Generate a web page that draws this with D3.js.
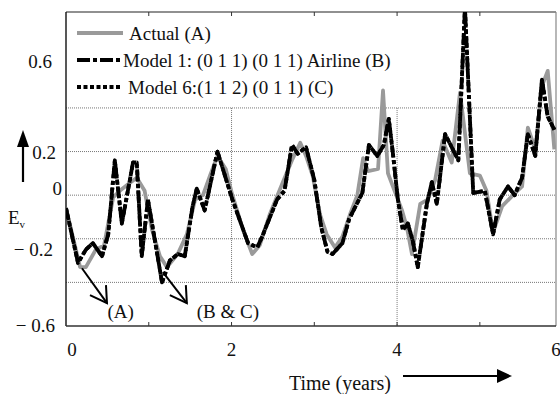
<!DOCTYPE html>
<html>
<head>
<meta charset="utf-8">
<script src="https://cdn.jsdelivr.net/npm/d3@7"></script>
<style>
  body { margin: 0; background: #fff; }
  text { font-family: "Liberation Serif", "Times New Roman", serif; fill: #111; }
</style>
</head>
<body>
<div id="chart"></div>
<script>
// time (years) of each vertex
const actualTime = [0, 0.17, 0.24, 0.36, 0.46, 0.57, 0.65, 0.75, 0.855, 0.95, 1.04, 1.135, 1.22, 1.35, 1.46,
  1.56, 1.655, 1.74, 1.83, 1.93, 2.01, 2.14, 2.25, 2.34, 2.46, 2.61, 2.73, 2.83, 2.9, 2.98, 3.07, 3.15,
  3.25, 3.34, 3.43, 3.52, 3.59, 3.65, 3.77, 3.83, 3.89, 3.97, 4.06, 4.12, 4.18, 4.28, 4.37, 4.46, 4.55,
  4.66, 4.76, 4.88, 5.0, 5.08, 5.16, 5.27, 5.4, 5.51, 5.58, 5.67, 5.75, 5.82, 5.9];
const actual = [-0.06, -0.33, -0.33, -0.25, -0.23, -0.01, 0.02, 0.05, 0.08, 0.02, -0.16, -0.28, -0.33, -0.27, -0.18,
  -0.02, 0.0, 0.09, 0.18, 0.12, 0.0, -0.16, -0.27, -0.23, -0.09, 0.05, 0.16, 0.24, 0.18, 0.09, -0.09, -0.18,
  -0.24, -0.19, -0.09, 0.0, 0.17, 0.11, 0.12, 0.48, 0.10, 0.02, -0.07, -0.15, -0.27, -0.04, -0.02, 0.07, 0.25,
  0.15, 0.47, 0.10, 0.09, 0.02, -0.17, -0.05, 0.0, 0.04, 0.31, 0.21, 0.5, 0.57, 0.21];

const modelTime = [0, 0.145, 0.24, 0.325, 0.435, 0.51, 0.59, 0.675, 0.81, 0.855, 0.915, 0.99, 1.16, 1.255, 1.35,
  1.435, 1.53, 1.58, 1.675, 1.83, 2.01, 2.2, 2.31, 2.37, 2.55, 2.64, 2.73, 2.8, 2.9, 3.0, 3.085, 3.16,
  3.22, 3.34, 3.42, 3.54, 3.58, 3.66, 3.76, 3.84, 3.9, 3.95, 4.01, 4.07, 4.13, 4.19, 4.25, 4.36, 4.42,
  4.48, 4.58, 4.74, 4.82, 4.92, 5.06, 5.16, 5.24, 5.34, 5.42, 5.51, 5.58, 5.67, 5.75, 5.82, 5.9];
const model1 = [-0.06, -0.31, -0.25, -0.22, -0.28, -0.18, 0.16, -0.13, 0.15, 0.15, -0.28, -0.02, -0.40, -0.30, -0.27,
  -0.28, -0.05, 0.03, -0.07, 0.2, -0.02, -0.22, -0.24, -0.19, -0.02, 0.02, 0.23, 0.19, 0.22, 0.07, -0.15, -0.26,
  -0.27, -0.22, -0.11, -0.02, 0.01, 0.23, 0.18, 0.23, 0.35, 0.19, -0.02, -0.16, -0.13, -0.21, -0.33, -0.04, 0.06,
  -0.04, 0.28, 0.16, 0.86, 0.01, 0.02, -0.18, -0.02, 0.04, 0.0, 0.08, 0.28, 0.18, 0.53, 0.36, 0.30];
const model6 = [-0.06, -0.31, -0.25, -0.22, -0.28, -0.18, 0.16, -0.13, 0.15, 0.15, -0.28, -0.02, -0.40, -0.30, -0.27,
  -0.28, -0.05, 0.03, -0.07, 0.2, -0.02, -0.22, -0.24, -0.19, -0.02, 0.02, 0.23, 0.19, 0.22, 0.07, -0.15, -0.26,
  -0.27, -0.22, -0.11, -0.02, 0.01, 0.23, 0.18, 0.23, 0.35, 0.19, -0.02, -0.16, -0.13, -0.21, -0.33, -0.04, 0.06,
  -0.04, 0.28, 0.16, 0.86, 0.01, 0.02, -0.18, -0.02, 0.04, 0.0, 0.08, 0.28, 0.18, 0.53, 0.36, 0.30];

const seriesNames = ['Actual (A)', 'Model 1: (0 1 1) (0 1 1) Airline (B)', 'Model 6:(1 1 2) (0 1 1) (C)'];
const xTickLabels = [0, 2, 4, 6];
const xMinorTicks = [1, 2, 3, 4, 5];
const yTickLabels = [0.6, 0.2, 0, -0.2, -0.6];
const yGrid = [0.4, 0.2, 0, -0.2, -0.4];

// --------------------------------------------------------------
const width = 560, height = 394;
const margin = { top: 12, right: 4, bottom: 68, left: 66 };
const xMax = 5.92, yMin = -0.6, yMax = 0.84;

const svg = d3.select('#chart').append('svg')
  .attr('width', width).attr('height', height);

const x = d3.scaleLinear().domain([0, xMax]).range([margin.left, width - margin.right]);
const xl = x.copy().clamp(true);
const y = d3.scaleLinear().domain([yMin, yMax]).range([height - margin.bottom, margin.top]);

const fontSize = 19;

// grid
const grid = svg.append('g').attr('stroke', '#777').attr('stroke-width', 1).attr('stroke-dasharray', '1,1');
grid.selectAll('line.h').data(yGrid).enter().append('line')
  .attr('x1', x(0)).attr('x2', x(xMax))
  .attr('y1', d => y(d)).attr('y2', d => y(d));
grid.append('line').attr('x1', x(2)).attr('x2', x(2)).attr('y1', y(0.4)).attr('y2', y(-0.4));
grid.append('line').attr('x1', x(4)).attr('x2', x(4)).attr('y1', y(0.4)).attr('y2', y(yMin));

// frame
svg.append('line').attr('x1', x(0)).attr('x2', x(xMax)).attr('y1', y(yMax)).attr('y2', y(yMax))
  .attr('stroke', '#222').attr('stroke-width', 1.2);
svg.append('line').attr('x1', x(xMax)).attr('x2', x(xMax)).attr('y1', y(yMax)).attr('y2', y(yMin))
  .attr('stroke', '#888').attr('stroke-width', 1.2);
svg.append('line').attr('x1', x(0)).attr('x2', x(0)).attr('y1', y(yMax)).attr('y2', y(yMin))
  .attr('stroke', '#111').attr('stroke-width', 1.4);
svg.append('line').attr('x1', x(0)).attr('x2', x(xMax)).attr('y1', y(yMin)).attr('y2', y(yMin))
  .attr('stroke', '#333').attr('stroke-width', 1.4);

// inner ticks, bottom and top
svg.append('g').selectAll('line').data(xMinorTicks).enter().append('line')
  .attr('x1', d => x(d)).attr('x2', d => x(d))
  .attr('y1', y(yMin)).attr('y2', y(yMin) - 4)
  .attr('stroke', '#333');
svg.append('g').selectAll('line').data(xMinorTicks).enter().append('line')
  .attr('x1', d => x(d)).attr('x2', d => x(d))
  .attr('y1', y(yMax)).attr('y2', y(yMax) + 4)
  .attr('stroke', '#333');

// x labels
svg.append('g').selectAll('text').data(xTickLabels).enter().append('text')
  .attr('x', d => xl(d) + (d === 0 ? 6 : 0))
  .attr('y', y(yMin) + 30)
  .attr('text-anchor', 'middle')
  .attr('font-size', fontSize)
  .text(d => d);

// y labels (placed by hand in the original, so a few nudges)
const yLabelNudge = { '0.6': [52, -3], '0.2': [56, 1], '0': [62, -7], '-0.2': [53, 11], '-0.6': [55, -1] };
svg.append('g').selectAll('text').data(yTickLabels).enter().append('text')
  .attr('x', d => yLabelNudge[String(d)][0])
  .attr('y', d => y(d) + yLabelNudge[String(d)][1])
  .attr('dy', '0.35em')
  .attr('text-anchor', 'end')
  .attr('font-size', fontSize)
  .text(d => d < 0 ? '\u2212 ' + Math.abs(d) : String(d));

// E_v label and arrow
const ev = svg.append('text').attr('x', 8).attr('y', 224).attr('font-size', fontSize);
ev.append('tspan').text('E');
ev.append('tspan').attr('font-size', 11).attr('dy', 4).text('v');

svg.append('line').attr('x1', 23).attr('x2', 23).attr('y1', 182).attr('y2', 145)
  .attr('stroke', '#000').attr('stroke-width', 2.2);
svg.append('path').attr('d', 'M23,130 L17,147 L29,147 Z').attr('fill', '#000');

// x axis title + arrow
svg.append('text').attr('x', 391).attr('y', 390).attr('text-anchor', 'end')
  .attr('font-size', 20).text('Time (years)');
svg.append('line').attr('x1', 403).attr('x2', 498).attr('y1', 376).attr('y2', 376)
  .attr('stroke', '#000').attr('stroke-width', 2.2);
svg.append('path').attr('d', 'M512,376 L497,369 L497,383 Z').attr('fill', '#000');

// series
svg.append('clipPath').attr('id', 'plot-clip').append('rect')
  .attr('x', x(0)).attr('y', y(yMax)).attr('width', x(xMax) - x(0)).attr('height', y(yMin) - y(yMax));

const line = d3.line().x(d => x(d[0])).y(d => y(d[1]));
const plot = svg.append('g').attr('clip-path', 'url(#plot-clip)').attr('fill', 'none')
  .attr('stroke-linejoin', 'round');

plot.append('path')
  .datum(d3.zip(actualTime, actual))
  .attr('stroke', '#9a9a9a').attr('stroke-width', 3.8)
  .attr('d', line);
plot.append('path')
  .datum(d3.zip(modelTime, model1))
  .attr('stroke', '#000').attr('stroke-width', 3.8)
  .attr('stroke-dasharray', '12,3,4,3')
  .attr('d', line);
plot.append('path')
  .datum(d3.zip(modelTime, model6))
  .attr('stroke', '#000').attr('stroke-width', 3.8)
  .attr('stroke-dasharray', '4,2.5')
  .attr('d', line);

// legend
const legendStyles = [
  { stroke: '#9a9a9a', dash: null, textX: 129 },
  { stroke: '#000', dash: '13,3,4,3', textX: 123 },
  { stroke: '#000', dash: '4,2.5', textX: 128 },
];
const legend = svg.append('g');
seriesNames.forEach((name, i) => {
  const ly = 33 + i * 27;
  legend.append('line')
    .attr('x1', 77).attr('x2', i === 0 ? 123 : 120).attr('y1', ly).attr('y2', ly)
    .attr('stroke', legendStyles[i].stroke).attr('stroke-width', 3.8)
    .attr('stroke-dasharray', legendStyles[i].dash);
  legend.append('text')
    .attr('x', legendStyles[i].textX).attr('y', ly + 7)
    .attr('font-size', fontSize)
    .text(name);
});

// annotations: arrows from curve minima to labels
const notes = [
  { from: [0.193, -0.335], to: [0.495, -0.495], label: '(A)', at: [0.5, -0.565] },
  { from: [1.17, -0.353], to: [1.46, -0.495], label: '(B & C)', at: [1.58, -0.565] },
];
const ann = svg.append('g');
notes.forEach(n => {
  const x1 = x(n.from[0]), y1 = y(n.from[1]), x2 = x(n.to[0]), y2 = y(n.to[1]);
  ann.append('line').attr('x1', x1).attr('y1', y1).attr('x2', x2).attr('y2', y2)
    .attr('stroke', '#000').attr('stroke-width', 2);
  ann.append('path')
    .attr('d', `M${x2 - 17},${y2 - 8} L${x2},${y2} L${x2 - 1},${y2 - 18}`)
    .attr('fill', 'none').attr('stroke', '#000').attr('stroke-width', 2);
  ann.append('text').attr('x', x(n.at[0])).attr('y', y(n.at[1]))
    .attr('font-size', fontSize).text(n.label);
});
</script>
</body>
</html>
